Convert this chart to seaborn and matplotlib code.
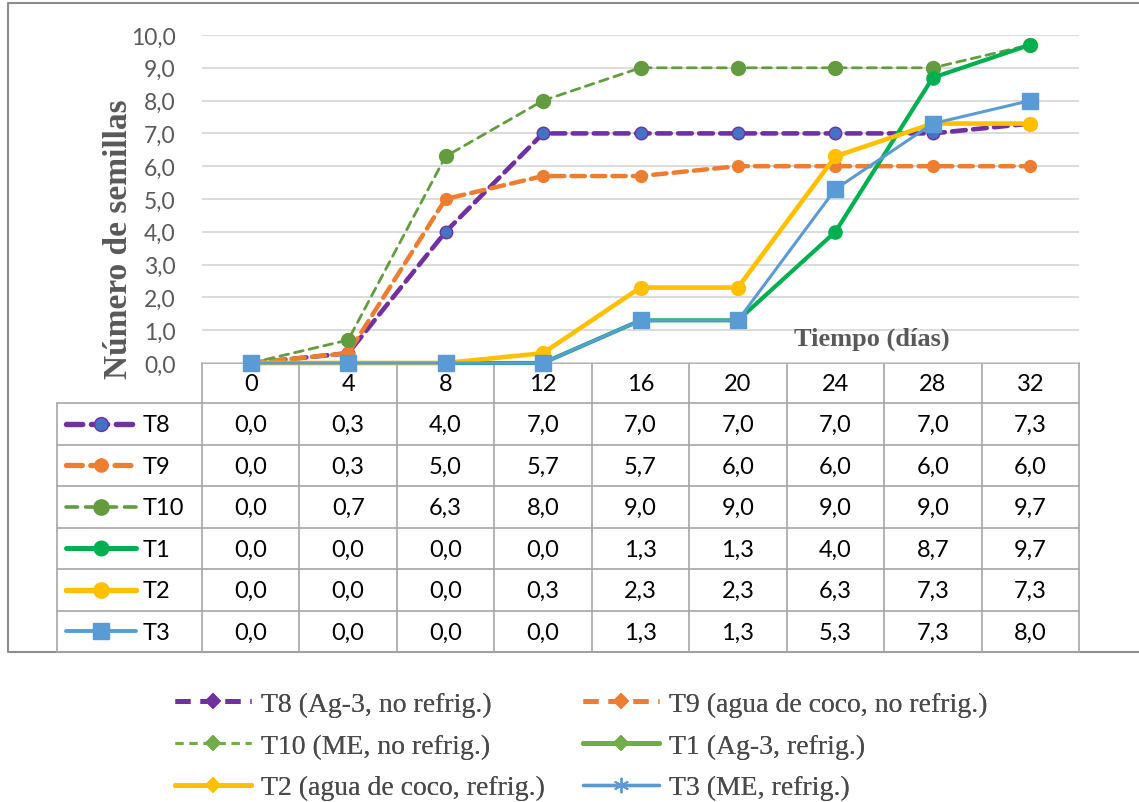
import matplotlib
matplotlib.use("Agg")
import matplotlib.pyplot as plt
from matplotlib.lines import Line2D
import seaborn as sns
import pandas as pd

# ---------------- data ----------------
days = ["0", "4", "8", "12", "16", "20", "24", "28", "32"]
series_names = ["T8", "T9", "T10", "T1", "T2", "T3"]
legend_labels = ["T8 (Ag-3, no refrig.)", "T9 (agua de coco, no refrig.)",
                 "T10 (ME, no refrig.)", "T1 (Ag-3, refrig.)",
                 "T2 (agua de coco, refrig.)", "T3 (ME, refrig.)"]
t8 = [0.0, 0.3, 4.0, 7.0, 7.0, 7.0, 7.0, 7.0, 7.3]
t9 = [0.0, 0.3, 5.0, 5.7, 5.7, 6.0, 6.0, 6.0, 6.0]
t10 = [0.0, 0.7, 6.3, 8.0, 9.0, 9.0, 9.0, 9.0, 9.7]
t1 = [0.0, 0.0, 0.0, 0.0, 1.3, 1.3, 4.0, 8.7, 9.7]
t2 = [0.0, 0.0, 0.0, 0.3, 2.3, 2.3, 6.3, 7.3, 7.3]
t3 = [0.0, 0.0, 0.0, 0.0, 1.3, 1.3, 5.3, 7.3, 8.0]
values = [t8, t9, t10, t1, t2, t3]
y_ticks = [0, 1, 2, 3, 4, 5, 6, 7, 8, 9, 10]

# ---------------- styles ----------------
styles = {
    "T8": dict(color="#7030A0", mfc="#4472C4", mec="#7030A0", lw=3.3, ms=9, marker="o", dashes=(3.0, 1.6)),
    "T9": dict(color="#ED7D31", mfc="#ED7D31", mec="#ED7D31", lw=3.2, ms=8.5, marker="o", dashes=(3.0, 1.6)),
    "T10": dict(color="#629C3E", mfc="#629C3E", mec="#629C3E", lw=2.0, ms=10, marker="o", dashes=(3.2, 2.2)),
    "T1": dict(color="#00B050", mfc="#00B050", mec="#00B050", lw=3.0, ms=9.5, marker="o", dashes=None),
    "T2": dict(color="#FFC000", mfc="#FFC000", mec="#FFC000", lw=3.3, ms=10, marker="o", dashes=None),
    "T3": dict(color="#5B9BD5", mfc="#5B9BD5", mec="#5B9BD5", lw=2.2, ms=11, marker="s", dashes=None),
}

sns.set_theme(style="white")
plt.rcParams["font.family"] = ["Lato", "DejaVu Sans"]
serif = ["Liberation Serif", "DejaVu Serif"]

W, H = 1139, 803
fig = plt.figure(figsize=(W / 100, H / 100), dpi=100)

# overlay in pixel coordinates (frame, table)
ov = fig.add_axes([0, 0, 1, 1], zorder=0)
ov.set_xlim(0, W)
ov.set_ylim(H, 0)
ov.axis("off")

px_l, px_r, px_top, px_bot = 202, 1079, 36, 364
ax = fig.add_axes([px_l / W, (H - px_bot) / H, (px_r - px_l) / W, (px_bot - px_top) / H], zorder=2)
ax.set_facecolor("none")

x_idx = list(range(len(days)))
for name, vals in zip(series_names, values):
    st = styles[name]
    df = pd.DataFrame({"x": x_idx, "y": vals})
    sns.lineplot(data=df, x="x", y="y", ax=ax, color=st["color"], linewidth=st["lw"],
                 marker=st["marker"], markersize=st["ms"], markerfacecolor=st["mfc"],
                 markeredgecolor=st["mec"], markeredgewidth=1.0, clip_on=False)
    line = ax.lines[-1]
    if st["dashes"] is not None:
        line.set_dashes(st["dashes"])
    line.set_solid_capstyle("round")
    line.set_dash_capstyle("round")

ax.set_xlim(-0.5, len(days) - 0.5)
ax.set_ylim(0, 10)
ax.set_yticks(y_ticks)
ax.set_yticklabels([f"{v:.1f}".replace(".", ",") for v in y_ticks], color="#595959", fontsize=16.5)
ax.tick_params(axis="y", length=0, pad=19)
ax.set_xticks([])
ax.set_xlabel("")
ax.set_ylabel("")
for s in ax.spines.values():
    s.set_visible(False)
ax.yaxis.grid(True, color="#D9D9D9", linewidth=1.3)
ax.set_axisbelow(True)

# y label and x label
fig.text(119 / W, 1 - 239 / H, "Número de semillas", rotation=90, ha="center", va="center",
         fontsize=24, fontweight="bold", color="#595959", family=serif)
fig.text(872 / W, 1 - 339 / H, "Tiempo (días)", ha="center", va="center",
         fontsize=19, fontweight="bold", color="#595959", family=serif)

# outer frame
frame_c = "#8C8C8C"
ov.plot([8, 8, 1145], [653, 4, 4], color=frame_c, lw=1.5, solid_capstyle="butt")
ov.plot([8, 1145], [653, 653], color=frame_c, lw=1.5)

# table
grid_c = "#A6A6A6"
col_w = (px_r - px_l) / len(days)
row_edges = [364, 404, 445.5, 487, 528.5, 570, 611.5, 653]
ov.plot([px_l, px_r], [364, 364], color=grid_c, lw=1.2)
for k in range(len(days) + 1):
    ov.plot([px_l + k * col_w] * 2, [364, 653], color=grid_c, lw=1.2)
ov.plot([57, 57], [404, 653], color=grid_c, lw=1.2)
for ry in row_edges[1:]:
    ov.plot([57, px_r], [ry, ry], color=grid_c, lw=1.2)

for k, d in enumerate(days):
    ov.text(px_l + (k + 0.5) * col_w, 385, d, ha="center", va="center", fontsize=17, color="black")

for r, (name, vals) in enumerate(zip(series_names, values)):
    yc = (row_edges[r + 1] + row_edges[r + 2]) / 2
    for k, v in enumerate(vals):
        ov.text(px_l + (k + 0.5) * col_w, yc + 1, f"{v:.1f}".replace(".", ","), ha="center", va="center",
                fontsize=17, color="black")
    st = styles[name]
    key = Line2D([66, 136], [yc, yc], color=st["color"], lw=st["lw"] + 0.6,
                 solid_capstyle="round", dash_capstyle="round")
    if st["dashes"] is not None:
        key.set_dashes(st["dashes"])
    ov.add_line(key)
    ov.add_line(Line2D([101], [yc], marker=st["marker"], markersize=st["ms"] + 1,
                       markerfacecolor=st["mfc"], markeredgecolor=st["mec"], lw=0))
    ov.text(143, yc + 1, name, ha="left", va="center", fontsize=17, color="black")

# bottom legend (two columns)
leg_styles = [
    dict(color="#7030A0", lw=3.6, marker="D", ms=7, dashes=(3.0, 2.0)),
    dict(color="#ED7D31", lw=3.6, marker="D", ms=7, dashes=(3.0, 2.0)),
    dict(color="#70AD47", lw=2.2, marker="D", ms=7, dashes=(2.6, 2.0)),
    dict(color="#70AD47", lw=3.6, marker="D", ms=7, dashes=None),
    dict(color="#FFC000", lw=3.6, marker="D", ms=7, dashes=None),
    dict(color="#5B9BD5", lw=2.4, marker=(6, 2, 0), ms=11, dashes=None),
]
handles = []
for st in leg_styles:
    h = Line2D([], [], color=st["color"], lw=st["lw"], marker=st["marker"], markersize=st["ms"],
               markerfacecolor=st["color"], markeredgecolor=st["color"], markeredgewidth=1.2)
    if st["dashes"] is not None:
        h.set_dashes(st["dashes"])
    handles.append(h)

leg_kw = dict(loc="center left", frameon=False, prop={"family": serif, "size": 20},
              labelcolor="#4A4A4A", handlelength=2.75, handletextpad=0.35,
              labelspacing=0.58, borderpad=0, borderaxespad=0)
for col, x0 in ((0, 175), (1, 583)):
    idx = [col, col + 2, col + 4]
    leg = fig.legend([handles[i] for i in idx], [legend_labels[i] for i in idx],
                     bbox_to_anchor=(x0 / W, 1 - 747 / H), **leg_kw)
    fig.add_artist(leg)

fig.savefig("out.png", dpi=100)
